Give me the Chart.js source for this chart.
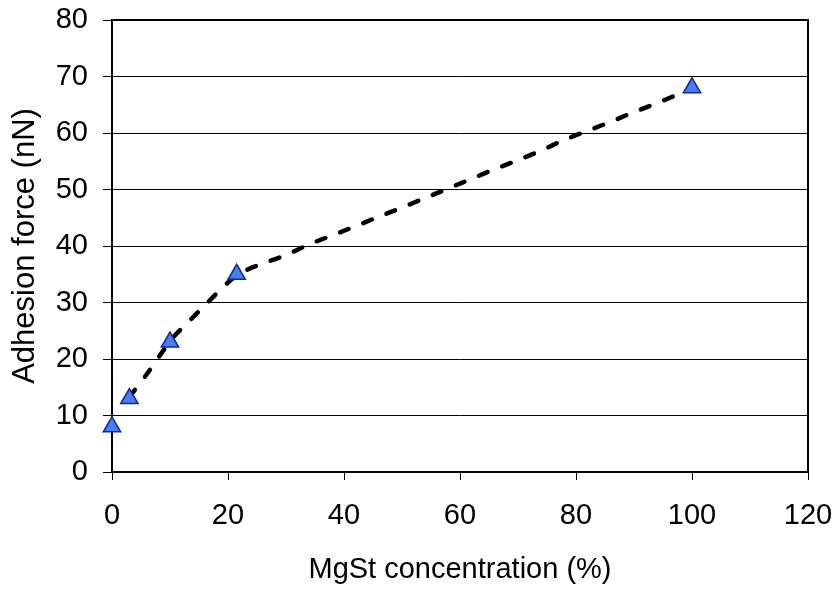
<!DOCTYPE html>
<html>
<head>
<meta charset="utf-8">
<title>Adhesion force vs MgSt concentration</title>
<script src="https://cdn.jsdelivr.net/npm/chart.js@4.4.1/dist/chart.umd.min.js"></script>
<style>
  html, body { margin: 0; padding: 0; background: #fff; }
  #wrap { width: 839px; height: 590px; }
</style>
</head>
<body>
<div id="wrap"><canvas id="chart" width="839" height="590"></canvas></div>
<script>
// measured points
const mgstConc = [0, 3, 10, 21.5, 100];
const adhesionForce = [8, 13, 23, 35, 68];

// dashed smoothed line (starts at the 3 % point)
const curveConc = [3, 6, 8.3, 10.6, 13.5, 16.4, 19.2, 22, 26, 30, 34, 38, 42, 46, 50,
  54, 58, 62, 66, 70, 74, 78, 82, 86, 90, 94, 98, 100];
const curveForce = [13.3, 17.3, 20.7, 23.9, 26.9, 29.9, 32.8, 35.2, 36.9, 38.4, 40.3, 41.9, 43.5, 45.2, 46.8,
  48.5, 50.2, 51.9, 53.6, 55.2, 56.9, 58.8, 60.4, 62.0, 63.7, 65.3, 67.0, 67.8];

const xTicks = [0, 20, 40, 60, 80, 100, 120];
const yTicks = [0, 10, 20, 30, 40, 50, 60, 70, 80];

const FONT = "'Liberation Sans', Arial, sans-serif";

// box around the plot area (top and right edges)
const frame = {
  id: 'frame',
  beforeDatasetsDraw(chart) {
    const { ctx, chartArea: a } = chart;
    ctx.save();
    ctx.strokeStyle = '#000';
    ctx.lineWidth = 2;
    ctx.strokeRect(a.left, a.top, a.right - a.left, a.bottom - a.top);
    ctx.restore();
  }
};

const ctx = document.getElementById('chart').getContext('2d');

new Chart(ctx, {
  type: 'scatter',
  data: {
    datasets: [
      {
        label: 'Adhesion force',
        data: mgstConc.map((x, i) => ({ x: x, y: adhesionForce[i] })),
        pointStyle: 'triangle',
        pointRadius: 10,
        pointHoverRadius: 10,
        backgroundColor: '#4a7cf2',
        borderColor: '#10289a',
        borderWidth: 1.5,
        clip: false,
        order: 0,
      },
      {
        label: 'Smoothed',
        data: curveConc.map((x, i) => ({ x: x, y: curveForce[i] })),
        showLine: true,
        borderColor: '#000',
        borderWidth: 4.5,
        borderDash: [9, 16],
        borderCapStyle: 'round',
        pointRadius: 0,
        tension: 0.2,
        order: 1,
      },
    ],
  },
  options: {
    responsive: false,
    animation: false,
    layout: {
      padding: { top: 20, right: 31, left: 0, bottom: 0 },
    },
    scales: {
      x: {
        type: 'linear',
        min: 0,
        max: 120,
        afterFit: (scale) => {
          scale.height = 118;
          scale.paddingLeft = 0;
          scale.paddingRight = 0;
        },
        afterBuildTicks: (scale) => { scale.ticks = xTicks.map((v) => ({ value: v })); },
        ticks: {
          font: { family: FONT, size: 29 },
          color: '#000',
          padding: 19,
          maxRotation: 0,
        },
        grid: {
          drawOnChartArea: false,
          drawTicks: true,
          tickLength: 8,
          tickColor: '#000',
        },
        border: { color: '#000', width: 2 },
        title: {
          display: true,
          text: 'MgSt concentration (%)',
          font: { family: FONT, size: 29 },
          color: '#000',
          padding: { top: 0, bottom: 3 },
        },
      },
      y: {
        min: 0,
        max: 80,
        afterFit: (scale) => {
          scale.width = 112;
          scale.paddingTop = 0;
          scale.paddingBottom = 0;
        },
        afterBuildTicks: (scale) => { scale.ticks = yTicks.map((v) => ({ value: v })); },
        ticks: {
          font: { family: FONT, size: 29 },
          color: '#000',
          padding: 15,
        },
        grid: {
          color: '#000',
          lineWidth: 1,
          tickLength: 9,
          tickColor: '#000',
        },
        border: { color: '#000', width: 2 },
        title: {
          display: true,
          text: 'Adhesion force (nN)',
          font: { family: FONT, size: 31 },
          color: '#000',
          padding: { top: 7, bottom: 0 },
        },
      },
    },
    plugins: {
      legend: { display: false },
      tooltip: { enabled: false },
    },
  },
  plugins: [frame],
});
</script>
</body>
</html>
